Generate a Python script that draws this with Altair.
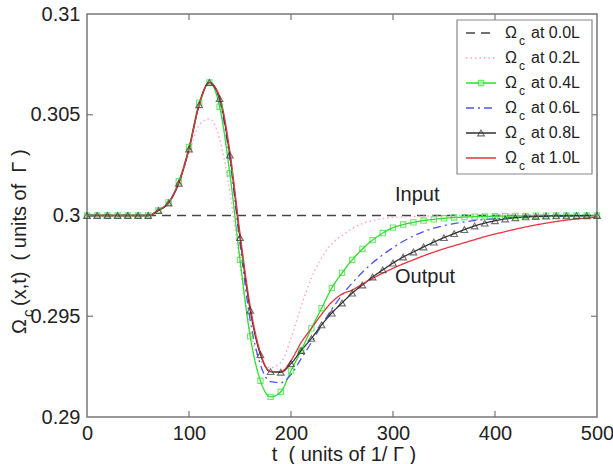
import altair as alt
import pandas as pd

# time grid (units of 1/Gamma)
t = list(range(0, 501, 10))

# control field Omega_c(x, t) at several positions along the medium
omega_00 = [0.3] * 51
omega_02 = [0.3] * 7 + [
    0.30025, 0.30062, 0.3016, 0.3031, 0.3045, 0.3048, 0.3038, 0.3012, 0.2975, 0.2943,
    0.2928, 0.29245, 0.2927, 0.2939, 0.2955, 0.2969, 0.2979, 0.2986, 0.2990, 0.29935,
    0.2996, 0.29975, 0.29985, 0.2999, 0.29993, 0.29995, 0.29997, 0.29998, 0.29999,
] + [0.3] * 15
omega_04 = [0.3] * 7 + [
    0.30025, 0.30065, 0.3017, 0.3034, 0.3056, 0.3066, 0.3054, 0.3021, 0.2978, 0.2940,
    0.2918, 0.2910, 0.29125, 0.2923, 0.2933, 0.2944, 0.2954, 0.2964, 0.29715, 0.2978,
    0.29834, 0.29878, 0.29913, 0.2994, 0.29955, 0.29966, 0.29975, 0.29981, 0.29986, 0.2999,
    0.29992, 0.29994, 0.29995, 0.29996, 0.29997, 0.29998, 0.29998, 0.29999, 0.29999, 0.3,
    0.3, 0.3, 0.3, 0.3,
]
omega_06 = [0.3] * 7 + [
    0.30026, 0.30064, 0.30165, 0.3033, 0.3055, 0.3066, 0.3057, 0.3028, 0.2986, 0.2948,
    0.2926, 0.29175, 0.2917, 0.2921, 0.2929, 0.2937, 0.29455, 0.29535, 0.29605, 0.29665,
    0.29718, 0.29765, 0.29805, 0.2984, 0.29872, 0.29898, 0.2992, 0.29937, 0.2995, 0.2996,
    0.29968, 0.29975, 0.2998, 0.29984, 0.29987, 0.2999, 0.29992, 0.29994, 0.29995, 0.29996,
    0.29997, 0.29998, 0.29998, 0.29999,
]
omega_08 = [0.3] * 7 + [
    0.30025, 0.30062, 0.3016, 0.3033, 0.3055, 0.3066, 0.3058, 0.3030, 0.2989, 0.2953,
    0.2931, 0.29225, 0.29222, 0.29265, 0.2933, 0.2939, 0.29457, 0.29516, 0.29566, 0.29615,
    0.29655, 0.29695, 0.2973, 0.29764, 0.29794, 0.29819, 0.29844, 0.29868, 0.2989, 0.2991,
    0.2993, 0.29948, 0.29962, 0.29974, 0.29983, 0.29989, 0.29993, 0.29995, 0.29997, 0.29998,
    0.29998, 0.29999, 0.29999, 0.3,
]
omega_10 = [0.3] * 7 + [
    0.30027, 0.30065, 0.30165, 0.3033, 0.3055, 0.3066, 0.3059, 0.3032, 0.2991, 0.2955,
    0.2932, 0.29225, 0.29225, 0.2928, 0.2937, 0.2944, 0.2951, 0.2957, 0.2961, 0.2963,
    0.2966, 0.29688, 0.29714, 0.29738, 0.2976, 0.2978, 0.298, 0.29818, 0.29835, 0.2985,
    0.29865, 0.2988, 0.29895, 0.29908, 0.2992, 0.29932, 0.29943, 0.29953, 0.29962, 0.2997,
    0.29977, 0.29983, 0.29988, 0.29992,
]

names = ["0.0L", "0.2L", "0.4L", "0.6L", "0.8L", "1.0L"]
series = [omega_00, omega_02, omega_04, omega_06, omega_08, omega_10]
colors = ["#444444", "#ff9fb4", "#30dd30", "#4a55e8", "#333333", "#e8333f"]
dashes = [[9, 6], [1.5, 3], [1, 0], [8, 4, 2, 4], [1, 0], [1, 0]]

x_ticks = [0, 100, 200, 300, 400, 500]
y_ticks = [0.29, 0.295, 0.3, 0.305, 0.31]

rows = []
for name, vals in zip(names, series):
    for ti, v in zip(t, vals):
        rows.append({"t": ti, "omega": v, "pos": name})
df = pd.DataFrame(rows)

W, H = 510, 403
FONT = "Liberation Sans"
INK = "#222222"
NB = "\u00a0"  # keeps the double spaces in titles

x_scale = alt.Scale(domain=[0, 500], nice=False, zero=False)
y_scale = alt.Scale(domain=[0.29, 0.31], nice=False, zero=False)
color_scale = alt.Scale(domain=names, range=colors)
dash_scale = alt.Scale(domain=names, range=dashes)

x_axis = alt.Axis(values=x_ticks, format="d", ticks=False, domain=False, grid=False,
                  labelFontSize=20, labelPadding=6, labelFlush=False,
                  labelOverlap=False, labelColor=INK, labelFont=FONT, title=None)
y_axis = alt.Axis(values=y_ticks, format="~g", ticks=False, domain=False, grid=False,
                  labelFontSize=20, labelPadding=7, labelOverlap=False,
                  labelColor=INK, labelFont=FONT, title=None)

lines = alt.Chart(df).mark_line(strokeWidth=1.3, interpolate="monotone").encode(
    x=alt.X("t:Q", scale=x_scale, axis=x_axis),
    y=alt.Y("omega:Q", scale=y_scale, axis=y_axis),
    color=alt.Color("pos:N", scale=color_scale, legend=None),
    strokeDash=alt.StrokeDash("pos:N", scale=dash_scale, legend=None),
)

squares = alt.Chart(df[df.pos == "0.4L"]).mark_point(
    shape="square", filled=False, size=28, stroke="#30dd30", strokeWidth=1.1
).encode(x=alt.X("t:Q", scale=x_scale), y=alt.Y("omega:Q", scale=y_scale))

triangles = alt.Chart(df[df.pos == "0.8L"]).mark_point(
    shape="triangle-up", filled=False, size=45, stroke="#333333", strokeWidth=1.1
).encode(x=alt.X("t:Q", scale=x_scale), y=alt.Y("omega:Q", scale=y_scale))

# annotations
notes = pd.DataFrame({"t": [302, 302], "omega": [0.30102, 0.29695], "txt": ["Input", "Output"]})
annot = alt.Chart(notes).mark_text(
    align="left", baseline="middle", fontSize=20, font=FONT, color=INK
).encode(x=alt.X("t:Q", scale=x_scale), y=alt.Y("omega:Q", scale=y_scale), text="txt:N")

# inward tick marks on all four sides of the box
xt = pd.DataFrame({"v": x_ticks[1:-1]})
yt = pd.DataFrame({"v": y_ticks[1:-1]})
tick_style = dict(color="#777777", strokeWidth=1.2)
tick_b = alt.Chart(xt).mark_rule(**tick_style).encode(
    x=alt.X("v:Q", scale=x_scale), y=alt.value(H), y2=alt.value(H - 6))
tick_t = alt.Chart(xt).mark_rule(**tick_style).encode(
    x=alt.X("v:Q", scale=x_scale), y=alt.value(0), y2=alt.value(6))
tick_l = alt.Chart(yt).mark_rule(**tick_style).encode(
    y=alt.Y("v:Q", scale=y_scale), x=alt.value(0), x2=alt.value(6))
tick_r = alt.Chart(yt).mark_rule(**tick_style).encode(
    y=alt.Y("v:Q", scale=y_scale), x=alt.value(W), x2=alt.value(W - 6))

# legend box
leg = pd.DataFrame({"pos": names, "ly": [19 + 25 * i for i in range(6)]})
leg["lys"] = leg["ly"] + 8
leg["label"] = ["at " + n for n in names]
leg["omega_sym"] = "Ω"
leg["sub"] = "c"

leg_box = alt.Chart(pd.DataFrame({"a": [0]})).mark_rect(
    fill="white", stroke="#888888", strokeWidth=1.2
).encode(x=alt.value(370), x2=alt.value(505), y=alt.value(6), y2=alt.value(160))
leg_lines = alt.Chart(leg).mark_rule(strokeWidth=1.3).encode(
    x=alt.value(379), x2=alt.value(409), y=alt.Y("ly:Q", scale=None),
    color=alt.Color("pos:N", scale=color_scale, legend=None),
    strokeDash=alt.StrokeDash("pos:N", scale=dash_scale, legend=None),
)
leg_sq = alt.Chart(leg[leg.pos == "0.4L"]).mark_point(
    shape="square", filled=True, size=28, fill="#aaf0aa", stroke="#30dd30", strokeWidth=1.1
).encode(x=alt.value(394), y=alt.Y("ly:Q", scale=None))
leg_tri = alt.Chart(leg[leg.pos == "0.8L"]).mark_point(
    shape="triangle-up", filled=False, size=45, stroke="#333333", strokeWidth=1.1
).encode(x=alt.value(394), y=alt.Y("ly:Q", scale=None))
leg_om = alt.Chart(leg).mark_text(
    align="left", baseline="middle", fontSize=16, font=FONT, color=INK
).encode(x=alt.value(418), y=alt.Y("ly:Q", scale=None), text="omega_sym:N")
leg_sub = alt.Chart(leg).mark_text(
    align="left", baseline="middle", fontSize=12, font=FONT, color=INK
).encode(x=alt.value(432), y=alt.Y("lys:Q", scale=None), text="sub:N")
leg_txt = alt.Chart(leg).mark_text(
    align="left", baseline="middle", fontSize=16, font=FONT, color=INK
).encode(x=alt.value(444), y=alt.Y("ly:Q", scale=None), text="label:N")

# axis titles
x_title = alt.Chart(pd.DataFrame({"s": ["t" + NB + NB + "( units of 1/ Γ )"]})).mark_text(
    align="center", baseline="alphabetic", fontSize=20, font=FONT, color=INK
).encode(x=alt.value(257), y=alt.value(447), text="s:N")
y_title_om = alt.Chart(pd.DataFrame({"s": ["Ω"]})).mark_text(
    align="left", baseline="middle", angle=270, fontSize=20, font=FONT, color=INK
).encode(x=alt.value(-67), y=alt.value(320), text="s:N")
y_title_sub = alt.Chart(pd.DataFrame({"s": ["c"]})).mark_text(
    align="left", baseline="middle", angle=270, fontSize=15, font=FONT, color=INK
).encode(x=alt.value(-59), y=alt.value(303), text="s:N")
y_title_rest = alt.Chart(pd.DataFrame({"s": ["(x,t)" + NB + NB + "( units of" + NB + NB + "Γ )"]})).mark_text(
    align="left", baseline="middle", angle=270, fontSize=20, font=FONT, color=INK
).encode(x=alt.value(-67), y=alt.value(292), text="s:N")

chart = alt.layer(
    lines, squares, triangles, annot,
    tick_b, tick_t, tick_l, tick_r,
    leg_box, leg_lines, leg_sq, leg_tri, leg_om, leg_sub, leg_txt,
    x_title, y_title_om, y_title_sub, y_title_rest,
).properties(
    width=W, height=H,
    autosize=alt.AutoSizeParams(type="none"),
    padding={"left": 87, "top": 14, "right": 16, "bottom": 47},
    background="white",
).configure_view(
    stroke="#777777", strokeWidth=1.5
)

chart.save("out.html", embed_options={"renderer": "svg", "actions": False})
